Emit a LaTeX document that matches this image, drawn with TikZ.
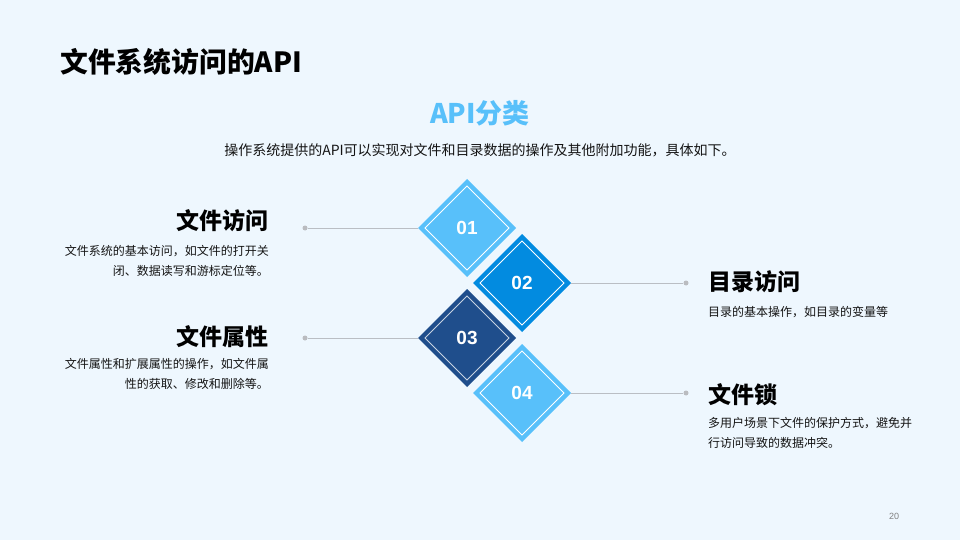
\documentclass[tikz,border=0pt]{standalone}
\usepackage{fontspec}
\setmainfont{Noto Sans CJK SC}
\newfontfamily\numfont{Liberation Sans}
\usetikzlibrary{shapes.geometric}

\definecolor{bgblue}{RGB}{238,247,254}
\definecolor{skyblue}{RGB}{88,192,250}
\definecolor{midblue}{RGB}{2,139,224}
\definecolor{navyblue}{RGB}{31,78,140}
\definecolor{linegray}{RGB}{186,190,196}
\definecolor{dotgray}{RGB}{186,188,192}
\definecolor{textgray}{RGB}{20,20,20}

\tikzset{
  tile/.style={diamond, minimum width=98pt, minimum height=98pt, inner sep=0pt, outer sep=0pt},
  tilein/.style={diamond, draw=white, line width=0.8pt, minimum width=84pt, minimum height=84pt,
    inner sep=0pt, outer sep=0pt, text=white, font=\numfont\bfseries\fontsize{19}{19}\selectfont},
  dot/.style={circle, fill=dotgray, minimum size=5pt, inner sep=0pt},
  link/.style={draw=linegray, line width=0.8pt},
  head/.style={font=\bfseries\fontsize{23}{26}\selectfont, text=black, inner sep=0pt},
  desc/.style={font=\fontsize{12}{20.5}\selectfont, text=textgray, inner sep=0pt},
}

\begin{document}
\begin{tikzpicture}[x=1pt, y=-1pt]
\fill [bgblue] (0,0) rectangle (960,540);
\useasboundingbox (0,0) rectangle (960,540);

% titles
\node [anchor=west, inner sep=0pt, font=\bfseries\fontsize{27.8}{30}\selectfont] (title) at (60,62) {文件系统访问的API};
\node [inner sep=0pt, text=skyblue, font=\bfseries\fontsize{27}{30}\selectfont] (cat) at (480,113) {API分类};
\node [inner sep=0pt, text=textgray, font=\fontsize{14}{16}\selectfont] (intro) at (480,150) {操作系统提供的API可以实现对文件和目录数据的操作及其他附加功能，具体如下。};

% diamonds
\node [tile, fill=skyblue] (d1) at (467,228) {};
\node [tilein] (n1) at (d1) {01};
\node [tile, fill=midblue] (d2) at (522,283) {};
\node [tilein] (n2) at (d2) {02};
\node [tile, fill=navyblue] (d3) at (467,338) {};
\node [tilein, draw=white!75!navyblue] (n3) at (d3) {03};
\node [tile, fill=skyblue] (d4) at (522,393) {};
\node [tilein] (n4) at (d4) {04};

% connectors
\node [dot] (p1) at (305,228) {};
\node [dot] (p2) at (686,283) {};
\node [dot] (p3) at (305,338) {};
\node [dot] (p4) at (686,393) {};
\draw [link] (p1) -- (d1.west);
\draw [link] (d2.east) -- (p2);
\draw [link] (p3) -- (d3.west);
\draw [link] (d4.east) -- (p4);

% left texts
\node [head, anchor=east] (h1) at (269,221) {文件访问};
\node [desc, anchor=north east, align=right] (t1) at (269,245) {文件系统的基本访问，如文件的打开关\\闭、数据读写和游标定位等。};
\node [head, anchor=east] (h3) at (269,337) {文件属性};
\node [desc, anchor=north east, align=right] (t3) at (269,358) {文件属性和扩展属性的操作，如文件属\\性的获取、修改和删除等。};

% right texts
\node [head, anchor=west] (h2) at (708,282) {目录访问};
\node [desc, anchor=north west, align=left] (t2) at (708,306) {目录的基本操作，如目录的变量等};
\node [head, anchor=west] (h4) at (708,395) {文件锁};
\node [desc, anchor=north west, align=left] (t4) at (708,417) {多用户场景下文件的保护方式，避免并\\行访问导致的数据冲突。};

% page number
\node [inner sep=0pt, text=gray, font=\numfont\fontsize{9}{10}\selectfont] (page) at (894,516) {20};
\end{tikzpicture}
\end{document}
